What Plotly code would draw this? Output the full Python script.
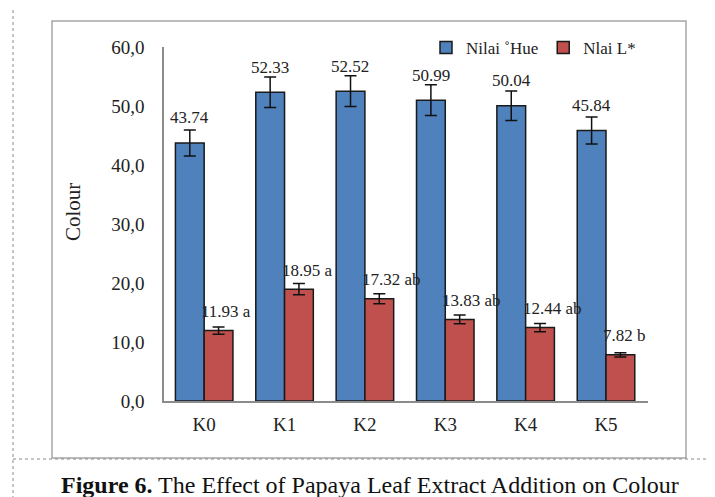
import plotly.graph_objects as go

# ---- data ----
categories = ["K0", "K1", "K2", "K3", "K4", "K5"]
hue_values = [43.74, 52.33, 52.52, 50.99, 50.04, 45.84]
hue_errors = [2.2, 2.6, 2.6, 2.6, 2.5, 2.3]
hue_labels = ["43.74", "52.33", "52.52", "50.99", "50.04", "45.84"]
l_values = [11.93, 18.95, 17.32, 13.83, 12.44, 7.82]
l_errors = [0.6, 0.95, 0.85, 0.75, 0.7, 0.35]
l_labels = ["11.93 a", "18.95 a", "17.32 ab", "13.83 ab", "12.44 ab", "7.82 b"]
y_tickvals = [0, 10, 20, 30, 40, 50, 60]
y_ticktext = ["0,0", "10,0", "20,0", "30,0", "40,0", "50,0", "60,0"]
series_names = ["Nilai \u02daHue", "Nlai L*"]
y_title = "Colour"
caption = "<b>Figure 6.</b> The Effect of Papaya Leaf Extract Addition on Colour"

FONT = "Liberation Serif"
BLUE = "#4F81BD"
RED = "#C0504D"
EDGE = "#1a1a1a"

W, H = 715, 497
OFF = 8  # page body margin offset
# plot area in screen pixels: x 164..648, y 47..401
SX0, SX1, SY0, SY1 = 164, 648, 47, 401
L, T = SX0 - OFF, SY0 - OFF
R = W - (SX1 - OFF)
B = H - (SY1 - OFF)
pw, ph = SX1 - SX0, SY1 - SY0


def px_x(p):
    return (p - SX0) / pw


def px_y(p):
    return (SY1 - p) / ph


fig = go.Figure()
fig.add_trace(go.Bar(
    x=categories, y=hue_values, name=series_names[0],
    marker=dict(color=BLUE, line=dict(color=EDGE, width=1.5)),
    error_y=dict(type="data", array=hue_errors, color="#111111", thickness=1.5, width=6),
))
fig.add_trace(go.Bar(
    x=categories, y=l_values, name=series_names[1],
    marker=dict(color=RED, line=dict(color=EDGE, width=1.5)),
    error_y=dict(type="data", array=l_errors, color="#111111", thickness=1.5, width=6),
))

annotations = []
for c, v, t in zip(categories, hue_values, hue_labels):
    annotations.append(dict(x=c, y=v, xref="x", yref="y", text=t, showarrow=False,
                            xanchor="center", yanchor="middle", xshift=-14.5, yshift=25,
                            font=dict(family=FONT, size=17, color="#222")))
for c, v, t in zip(categories, l_values, l_labels):
    annotations.append(dict(x=c, y=v, xref="x", yref="y", text=t, showarrow=False,
                            xanchor="left", yanchor="middle", xshift=-5, yshift=19,
                            font=dict(family=FONT, size=17, color="#222")))
annotations.append(dict(x=px_x(73), y=px_y(212), xref="paper", yref="paper", text=y_title,
                        textangle=-90, showarrow=False, xanchor="center", yanchor="middle",
                        font=dict(family=FONT, size=21, color="#222")))
annotations.append(dict(x=px_x(370), y=px_y(485), xref="paper", yref="paper", text=caption,
                        showarrow=False, xanchor="center", yanchor="middle",
                        font=dict(family=FONT, size=24, color="#111")))

shapes = [
    # inner chart frame
    dict(type="rect", xref="paper", yref="paper", x0=px_x(52), x1=px_x(686), y0=px_y(458), y1=px_y(21),
         line=dict(color="#a6a6a6", width=1.5), layer="below"),
    # outer dashed border
    dict(type="rect", xref="paper", yref="paper", x0=px_x(13), x1=px_x(740), y0=px_y(530), y1=px_y(7),
         line=dict(color="#8a8a8a", width=1, dash="dot"), layer="below"),
    # dashed separator above caption
    dict(type="line", xref="paper", yref="paper", x0=px_x(13), x1=px_x(740), y0=px_y(459), y1=px_y(459),
         line=dict(color="#8a8a8a", width=1, dash="dot"), layer="below"),
]

fig.update_layout(
    width=W, height=H,
    margin=dict(l=L, r=R, t=T, b=B, autoexpand=False),
    paper_bgcolor="white", plot_bgcolor="white",
    barmode="group", bargap=0.284, bargroupgap=0,
    font=dict(family=FONT, size=17, color="#222"),
    showlegend=True,
    legend=dict(orientation="h", x=px_x(426), y=px_y(48), xanchor="left", yanchor="middle",
                font=dict(family=FONT, size=17, color="#222"), bgcolor="rgba(0,0,0,0)",
                itemwidth=30, traceorder="normal"),
    annotations=annotations,
    shapes=shapes,
    xaxis=dict(showline=True, linecolor="#8c8c8c", linewidth=1.5, showgrid=False, zeroline=False,
               ticks="", ticklabelstandoff=5, tickfont=dict(family=FONT, size=19, color="#222")),
    yaxis=dict(range=[0, 60], tickvals=y_tickvals, ticktext=y_ticktext, showline=True,
               linecolor="#8c8c8c", linewidth=1.5, showgrid=False, zeroline=False, ticks="",
               ticklabelstandoff=14, tickfont=dict(family=FONT, size=19, color="#222")),
)

fig.write_html("out.html")
